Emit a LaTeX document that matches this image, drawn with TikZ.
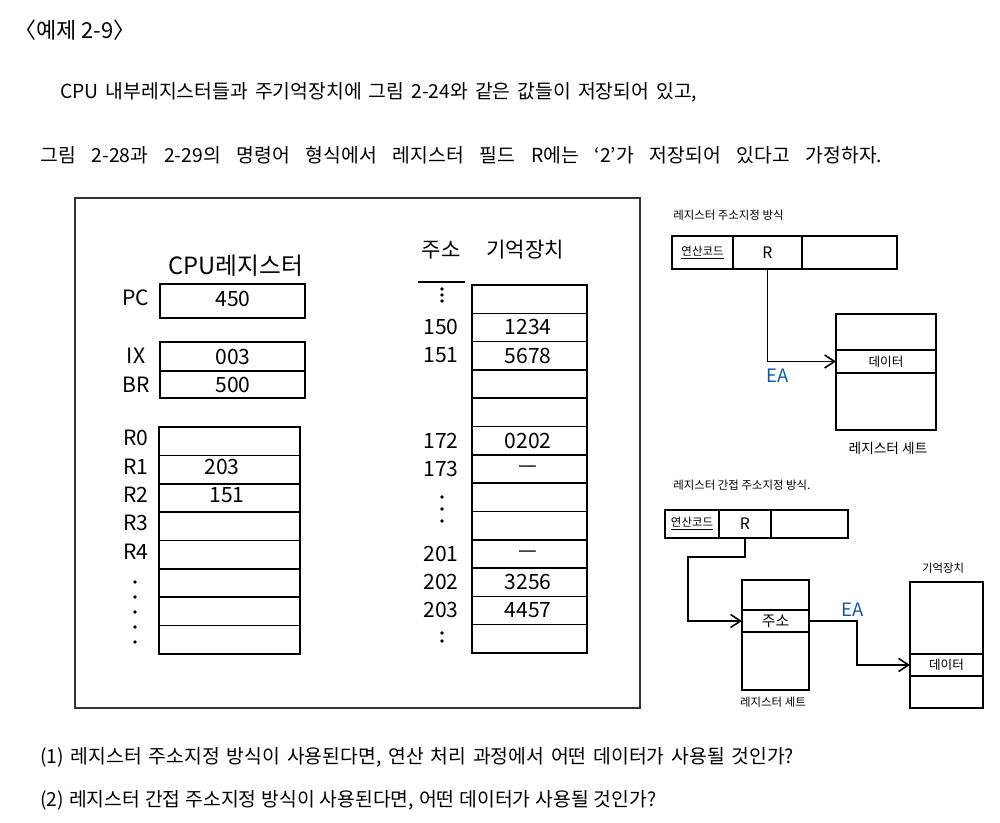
\documentclass[tikz,border=0pt]{standalone}
\usepackage{fontspec}
\setmainfont{Noto Sans CJK KR}
\usepackage{tikz}
\usetikzlibrary{arrows.meta,positioning}
\definecolor{eablue}{RGB}{22,88,160}

\begin{document}
\begin{tikzpicture}[x=0.02cm,y=-0.02cm,
    hand/.style={line width=0.9pt},
    field/.style={draw,line width=0.9pt,inner sep=0pt,outer sep=0pt},
    txt/.style={inner sep=0pt,anchor=west,font=\fontsize{11}{13}\selectfont},
    big/.style={inner sep=0pt,font=\fontsize{12}{14}\selectfont},
    small/.style={inner sep=0pt,font=\fontsize{7.2}{8}\selectfont},
    tiny/.style={inner sep=0pt,font=\fontsize{6.5}{8}\selectfont},
    ea/.style={inner sep=0pt,text=eablue,font=\fontsize{10.5}{12}\selectfont},
    tip/.style={-{Straight Barb[length=2mm,width=2.6mm]}}]
  \useasboundingbox (0,0) rectangle (1000,822);

  \node[txt,font=\fontsize{12.5}{14}\selectfont] (ex) at (14,30) {〈예제 2-9〉};
  \node[txt] (l1) at (60,92) {\spaceskip=4pt\relax CPU 내부레지스터들과 주기억장치에 그림 2-24와 같은 값들이 저장되어 있고,};
  \node[txt] (l2) at (40,155) {\spaceskip=9pt\relax 그림 2-28과 2-29의 명령어 형식에서 레지스터 필드 R에는 `2'가 저장되어 있다고 가정하자.};
  \node[txt] (q1) at (40,757) {\spaceskip=3.9pt\relax (1) 레지스터 주소지정 방식이 사용된다면, 연산 처리 과정에서 어떤 데이터가 사용될 것인가?};
  \node[txt] (q2) at (40,800) {\spaceskip=2.8pt\relax (2) 레지스터 간접 주소지정 방식이 사용된다면, 어떤 데이터가 사용될 것인가?};

  \draw[line width=0.8pt,black!80] (75,198) rectangle (640,708);

  % CPU registers
  \node[big,font=\fontsize{13.5}{15}\selectfont] (cpuh) at (236,266) {CPU레지스터};
  \draw[hand] (160,284) rectangle (305,318);
  \node[big] (pc) at (136,298) {PC};
  \node[big] (pcv) at (233,299) {450};
  \draw[hand] (160,342) rectangle (305,398) (160,371) -- (305,371);
  \node[big] (ix) at (136,356) {IX};
  \node[big] (ixv) at (233,357) {003};
  \node[big] (br) at (136,385) {BR};
  \node[big] (brv) at (233,385) {500};
  \draw[hand] (159,427) rectangle (300,654);
  \foreach \k in {1,...,7}
    \draw[hand] (159,427+28.375*\k) -- (300,427+28.375*\k);
  \foreach \t [count=\k from 0] in {R0,R1,R2,R3,R4}
    \node[big] (rl\k) at (136,438+28.375*\k) {\t};
  \foreach \k in {0,...,4}
    \fill (135,582+15*\k) circle[radius=1.1pt];
  \node[big] (r1v) at (222,467) {203};
  \node[big] (r2v) at (227,495) {151};

  % memory
  \node[big] (addrh) at (441,250) {주소};
  \draw[hand] (418,282) -- (465,282);
  \node[big] (memh) at (525,250) {기억장치};
  \draw[hand] (472,285) rectangle (587,653);
  \foreach \k in {1,...,12}
    \draw[hand] (472,285+28.3*\k) -- (587,285+28.3*\k);
  \foreach \k/\a/\v in {1/150/1234,2/151/5678,5/172/0202,6/173/---,9/201/---,10/202/3256,11/203/4457}{
    \node[big] (a\a) at (441,299+28.3*\k) {\a};
    \node[big] (m\a) at (528,299+28.3*\k) {\v};
  }
  \foreach \y in {289,295,301,497,509,521,633,641}
    \fill (442,\y) circle[radius=1.1pt];

  % register addressing
  \node[tiny,anchor=west] (t1) at (673,215) {레지스터 주소지정 방식};
  \node[field,tiny,minimum width=1.22cm,minimum height=0.66cm] (op1) at (702.5,252.5) {\underline{연산코드}};
  \node[field,minimum width=1.38cm,minimum height=0.66cm,right=0pt of op1,font=\fontsize{9}{10}\selectfont] (rf1) {R};
  \node[field,minimum width=1.9cm,minimum height=0.66cm,right=0pt of rf1] (ad1) {};
  \node[field,minimum width=2cm,minimum height=0.72cm] (rs1a) at (886,332) {};
  \node[field,small,minimum width=2cm,minimum height=0.46cm,below=0pt of rs1a] (dat1) {데이터};
  \node[field,minimum width=2cm,minimum height=1.14cm,below=0pt of dat1] (rs1c) {};
  \node[small,font=\fontsize{7.8}{9}\selectfont] (rs1) at (888,448) {레지스터 세트};
  \draw[hand,tip] (rf1.south) |- (dat1.west);
  \node[ea] (ea1) at (778,376) {EA};

  % register indirect addressing
  \node[tiny,anchor=west] (t2) at (673,485) {레지스터 간접 주소지정 방식.};
  \node[field,tiny,minimum width=1.08cm,minimum height=0.56cm] (op2) at (692,524) {\underline{연산코드}};
  \node[field,minimum width=1.04cm,minimum height=0.56cm,right=0pt of op2,font=\fontsize{9}{10}\selectfont] (rf2) {R};
  \node[field,minimum width=1.54cm,minimum height=0.56cm,right=0pt of rf2] (ad2) {};
  \node[field,minimum width=1.34cm,minimum height=0.6cm] (rs2a) at (775.5,595) {};
  \node[field,minimum width=1.34cm,minimum height=0.44cm,below=0pt of rs2a,font=\fontsize{8.5}{10}\selectfont] (adr2) {주소};
  \node[field,minimum width=1.34cm,minimum height=1.16cm,below=0pt of adr2] (rs2c) {};
  \node[tiny] (rs2) at (773,702) {레지스터 세트};
  \node[tiny] (mem2) at (943,568) {기억장치};
  \node[field,minimum width=1.46cm,minimum height=1.44cm] (mm2a) at (946.5,618) {};
  \node[field,small,minimum width=1.46cm,minimum height=0.44cm,below=0pt of mm2a] (dat2) {데이터};
  \node[field,minimum width=1.46cm,minimum height=0.64cm,below=0pt of dat2] (mm2c) {};
  \coordinate (bend) at (688,557);
  \draw[hand,tip] (rf2.south) |- (bend) |- (adr2.west);
  \draw[hand,tip] (adr2.east) -- ++(48,0) |- (dat2.west);
  \node[ea] (ea2) at (853,610) {EA};
\end{tikzpicture}
\end{document}
